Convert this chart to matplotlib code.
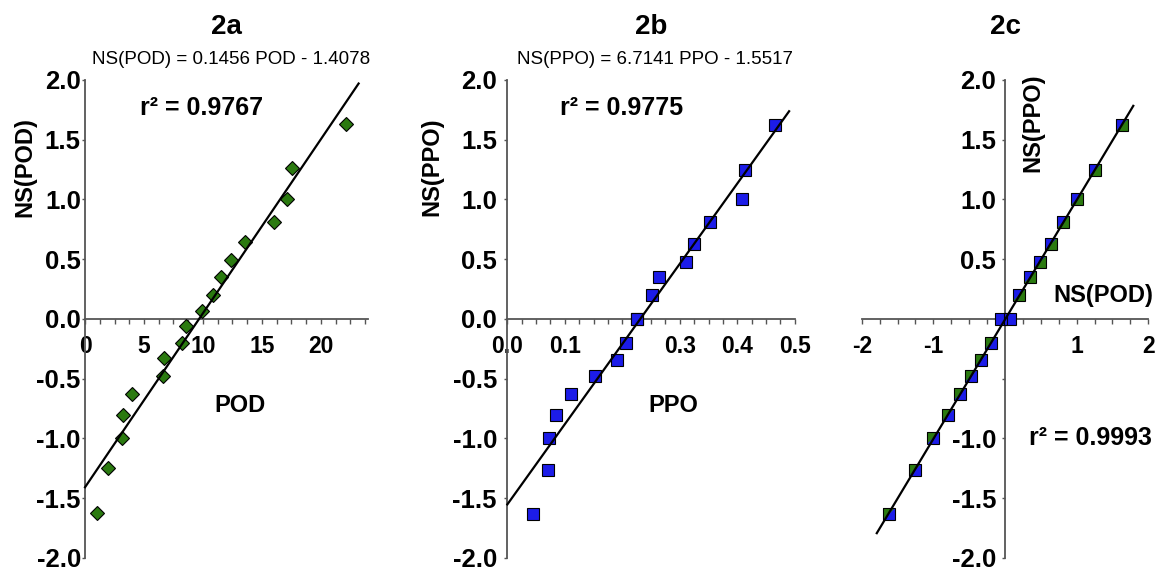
import numpy as np
import matplotlib
matplotlib.use("Agg")
import matplotlib.pyplot as plt
from matplotlib.ticker import MultipleLocator

plt.rcParams['font.family'] = ['Liberation Sans', 'DejaVu Sans']
plt.rcParams['axes.unicode_minus'] = False

# normal scores, in rank order
ns_pod = [-1.62, -1.25, -1.00, -0.80, -0.63, -0.48, -0.33, -0.20, -0.06,
          0.07, 0.20, 0.35, 0.49, 0.64, 0.81, 1.00, 1.26, 1.63]
ns_ppo = [-1.63, -1.26, -1.00, -0.80, -0.63, -0.48, -0.34, -0.20, 0.00,
          0.00, 0.20, 0.35, 0.48, 0.63, 0.81, 1.00, 1.25, 1.62]

# measured values, sorted
pod = [1.0, 1.95, 3.1, 3.2, 4.0, 6.6, 6.7, 8.2, 8.55,
       9.95, 10.85, 11.5, 12.4, 13.55, 16.0, 17.1, 17.55, 22.1]
ppo = [0.044, 0.070, 0.073, 0.085, 0.111, 0.152, 0.190, 0.207, 0.225,
       0.225, 0.251, 0.263, 0.311, 0.325, 0.352, 0.408, 0.413, 0.465]

# regression lines (slope, intercept) and the x span they are drawn over
fit_pod = (0.1456, -1.4078)
fit_ppo = (6.7141, -1.5517)
span_pod = (0, 23.2)
span_ppo = (0, 0.49)
span_ns = (-1.79, 1.79)

titles = ['2a', '2b', '2c']
equations = ['NS(POD) = 0.1456 POD - 1.4078', 'NS(PPO) = 6.7141 PPO - 1.5517', '']
r2_texts = ['r² = 0.9767', 'r² = 0.9775', 'r² = 0.9993']

green = '#2b7a10'
blue = '#1c1ce8'
axcol = '#555555'

fig = plt.figure(figsize=(11.57, 5.72), dpi=100)
bottom, height = 0.0245, 0.8357
ax_a = fig.add_axes([0.0735, bottom, 0.2446, height])
ax_b = fig.add_axes([0.4385, bottom, 0.2485, height])
ax_c = fig.add_axes([0.7448, bottom, 0.2477, height])


def style_axes(ax, xlim, major, minor, xlabels, ylabels, ypad):
    ax.set_xlim(*xlim)
    ax.set_ylim(-2, 2)
    for s in ['top', 'right']:
        ax.spines[s].set_visible(False)
    for s in ['left', 'bottom']:
        ax.spines[s].set_position(('data', 0))
        ax.spines[s].set_color(axcol)
        ax.spines[s].set_linewidth(1.3)
    ax.set_xticks(major, xlabels)
    ax.xaxis.set_minor_locator(MultipleLocator(minor))
    yt = np.arange(-2, 2.01, 0.5)
    ax.set_yticks(yt, ylabels)
    ax.tick_params(axis='x', which='both', direction='out', length=3.5,
                   width=1, color=axcol, pad=8, labelsize=16.5)
    ax.tick_params(axis='y', direction='out', length=2.5, width=1,
                   color=axcol, pad=ypad, labelsize=18.5)
    for lab in ax.get_xticklabels() + ax.get_yticklabels():
        lab.set_fontweight('bold')
    for lab in ax.get_xticklabels():
        lab.set_bbox(dict(facecolor='white', edgecolor='none', pad=0.5))
    ax.patch.set_visible(False)


ylab_all = ['%.1f' % v for v in np.arange(-2, 2.01, 0.5)]

# ---- 2a
style_axes(ax_a, (0, 24), [0, 5, 10, 15, 20], 1.25,
           ['0', '5', '10', '15', '20'], ylab_all, 0.5)
ax_a.plot(pod, ns_pod, 'D', color=green, mec='black', mew=0.8, ms=7,
          zorder=3, clip_on=False)
xs = np.array(span_pod)
ax_a.plot(xs, fit_pod[0] * xs + fit_pod[1], color='black', lw=1.6,
          zorder=4, clip_on=False)

# ---- 2b
style_axes(ax_b, (0, 0.5), [0, 0.1, 0.3, 0.4, 0.5], 0.025,
           ['0.0', '0.1', '0.3', '0.4', '0.5'], ylab_all, 5)
ax_b.plot(ppo, ns_ppo, 's', color=blue, mec='black', mew=0.8, ms=8.5,
          zorder=3, clip_on=False)
xs = np.array(span_ppo)
ax_b.plot(xs, fit_ppo[0] * xs + fit_ppo[1], color='black', lw=1.6,
          zorder=4, clip_on=False)

# ---- 2c
ylab_c = [l if l not in ('0.0', '-0.5') else '' for l in ylab_all]
style_axes(ax_c, (-2, 2), [-2, -1, 1, 2], 0.25,
           ['-2', '-1', '1', '2'], ylab_c, 4)
tri_ul = [(-1, -1), (-1, 1), (1, 1)]
tri_lr = [(-1, -1), (1, -1), (1, 1)]
ms_c = 9
ax_c.plot(ns_pod, ns_ppo, 's', color=green, mew=0, ms=ms_c, zorder=3)
for x, y in zip(ns_pod, ns_ppo):
    if y > 0:
        mk = tri_ul
    elif y < 0:
        mk = tri_lr
    else:
        mk = 's'
    ax_c.plot([x], [y], marker=mk, color=blue, mew=0, ms=ms_c, ls='none',
              zorder=3.1)
ax_c.plot(ns_pod, ns_ppo, 's', mfc='none', mec='black', mew=0.8, ms=ms_c,
          zorder=3.2)
k, b = np.polyfit(ns_pod, ns_ppo, 1)
xs = np.array(span_ns)
ax_c.plot(xs, k * xs + b, color='black', lw=1.6, zorder=4, clip_on=False)

# ---- texts
axes = [ax_a, ax_b, ax_c]
r2_pos = [(0.413, 0.941), (0.398, 0.941), (0.797, 0.251)]
for ax, t, eq, r2, pos in zip(axes, titles, equations, r2_texts, r2_pos):
    ax.text(0.5, 1.111, t, transform=ax.transAxes, ha='center', va='center',
            fontsize=20, fontweight='bold')
    if eq:
        ax.text(0.515, 1.042, eq, transform=ax.transAxes, ha='center',
                va='center', fontsize=13.5)
    ax.text(pos[0], pos[1], r2, transform=ax.transAxes, ha='center',
            va='center', fontsize=18, fontweight='bold')

ax_a.text(-0.212, 0.818, 'NS(POD)', transform=ax_a.transAxes, rotation=90,
          ha='center', va='center', fontsize=17, fontweight='bold')
ax_a.text(0.548, 0.318, 'POD', transform=ax_a.transAxes, ha='center',
          va='center', fontsize=17, fontweight='bold')
ax_b.text(-0.263, 0.818, 'NS(PPO)', transform=ax_b.transAxes, rotation=90,
          ha='center', va='center', fontsize=17, fontweight='bold')
ax_b.text(0.577, 0.318, 'PPO', transform=ax_b.transAxes, ha='center',
          va='center', fontsize=17, fontweight='bold')
ax_c.text(0.598, 0.91, 'NS(PPO)', transform=ax_c.transAxes, rotation=90,
          ha='center', va='center', fontsize=17, fontweight='bold')
ax_c.text(0.843, 0.55, 'NS(POD)', transform=ax_c.transAxes, ha='center',
          va='center', fontsize=17, fontweight='bold')

fig.savefig('out.png', dpi=100)
